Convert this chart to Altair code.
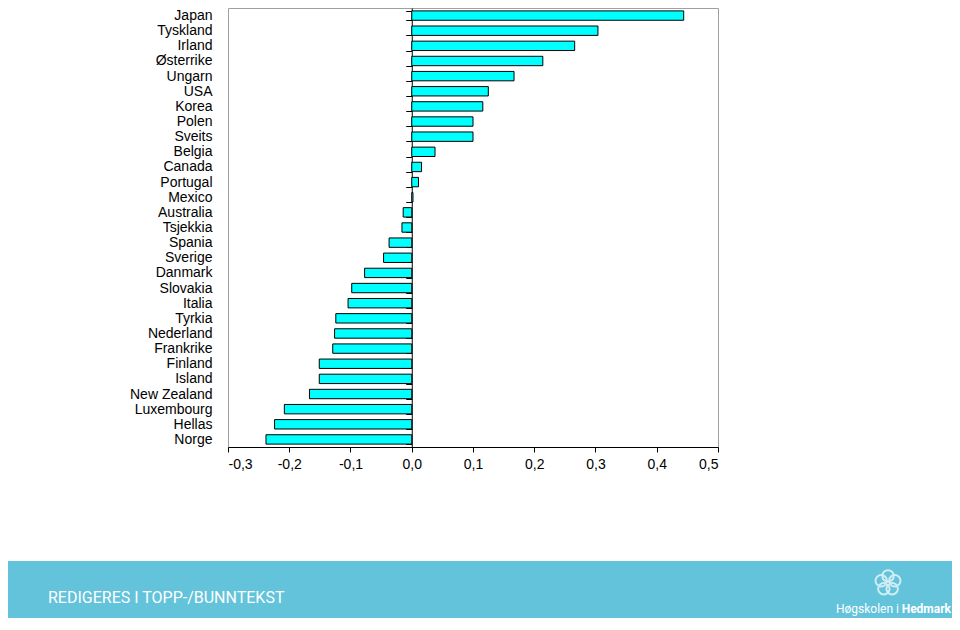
import math
import altair as alt
import pandas as pd

countries = ["Japan", "Tyskland", "Irland", "Østerrike", "Ungarn", "USA", "Korea",
             "Polen", "Sveits", "Belgia", "Canada", "Portugal", "Mexico", "Australia",
             "Tsjekkia", "Spania", "Sverige", "Danmark", "Slovakia", "Italia", "Tyrkia",
             "Nederland", "Frankrike", "Finland", "Island", "New Zealand", "Luxembourg",
             "Hellas", "Norge"]
values = [0.444, 0.304, 0.266, 0.214, 0.167, 0.125, 0.116,
          0.100, 0.100, 0.038, 0.016, 0.011, 0.002, -0.014,
          -0.016, -0.037, -0.046, -0.077, -0.098, -0.104, -0.124,
          -0.126, -0.129, -0.151, -0.151, -0.167, -0.208,
          -0.224, -0.238]
x_ticks = [-0.3, -0.2, -0.1, 0.0, 0.1, 0.2, 0.3, 0.4, 0.5]
footer_text = "REDIGERES I TOPP-/BUNNTEKST"
logo_text_regular = "Høgskolen i"
logo_text_bold = "Hedmark"

df = pd.DataFrame({"land": countries, "verdi": values})

W, H = 490, 439
LEFT_PAD, RIGHT_PAD, BOTTOM_PAD = 220, 234, 171
zero_px = W * 0.3 / 0.8
FONT = "Liberation Sans"

bars = alt.Chart(df).mark_bar(
    color="#00FFFF", stroke="#000000", strokeWidth=1
).encode(
    x=alt.X("verdi:Q",
            scale=alt.Scale(domain=[-0.3, 0.5], nice=False),
            axis=alt.Axis(values=x_ticks, title=None, grid=False,
                          domainColor="#000000", tickColor="#000000",
                          tickSize=5, labelPadding=5, labelFontSize=14,
                          labelFont=FONT, labelColor="#000000",
                          labelExpr="(datum.value < 0 ? '-' : '') + replace(format(abs(datum.value), '.1f'), '.', ',')")),
    y=alt.Y("land:N", sort=countries,
            scale=alt.Scale(paddingInner=0.38, paddingOuter=0.19),
            axis=alt.Axis(title=None, offset=-zero_px, domainColor="#000000",
                          tickColor="#000000", tickSize=6, tickBand="extent",
                          labelPadding=zero_px - 6 + 16, labelFontSize=14,
                          labelFont=FONT, labelColor="#000000", labelAlign="right")),
)

one = pd.DataFrame({"a": [0]})

footer = alt.Chart(one).mark_rect(color="#62c3db").encode(
    x=alt.value(-LEFT_PAD), x2=alt.value(W + RIGHT_PAD),
    y=alt.value(553), y2=alt.value(H + BOTTOM_PAD),
)

footer_label = alt.Chart(one).mark_text(
    text=footer_text, font="Roboto", fontSize=16, color="#ffffff",
    align="left", baseline="middle"
).encode(x=alt.value(-180), y=alt.value(590))

logo_reg = alt.Chart(one).mark_text(
    text=logo_text_regular, font="Roboto", fontSize=12, color="#ffffff",
    align="right", baseline="middle"
).encode(x=alt.value(671), y=alt.value(601))

logo_bold = alt.Chart(one).mark_text(
    text=logo_text_bold, font="Roboto", fontSize=12, fontWeight="bold",
    color="#ffffff", align="right", baseline="middle"
).encode(x=alt.value(723), y=alt.value(601))

# simple flower-like logo symbol made of five rings
parts = []
for k in range(5):
    ang = math.radians(-90 + 72 * k)
    cx, cy, r = 0.52 * math.cos(ang), 0.52 * math.sin(ang), 0.42
    parts.append(f"M{cx - r:.3f},{cy:.3f}a{r},{r} 0 1,0 {2*r:.3f},0a{r},{r} 0 1,0 {-2*r:.3f},0Z")
logo_path = "".join(parts)

logo = alt.Chart(one).mark_point(
    shape=logo_path, filled=False, stroke="#ffffff", strokeWidth=2, size=750
).encode(x=alt.value(660), y=alt.value(575))

chart = alt.layer(bars, footer, footer_label, logo_reg, logo_bold, logo).properties(
    width=W, height=H,
    padding={"left": LEFT_PAD, "top": 0, "right": RIGHT_PAD, "bottom": BOTTOM_PAD},
    autosize=alt.AutoSizeParams(type="none"),
).configure_view(stroke="#a0a0a0", strokeWidth=1)

chart.save("out.html", embed_options={"renderer": "svg", "actions": False})
